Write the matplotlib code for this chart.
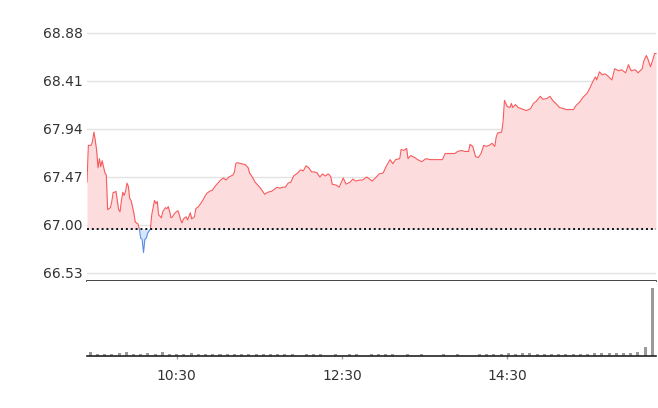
import matplotlib.pyplot as plt
import matplotlib.patches as mpatches
import numpy as np

# intraday price, minutes after 09:25
minutes = [0, 1, 3, 4, 5, 6, 7, 8, 9, 10, 11, 12, 13, 14, 15, 17, 18, 19, 20, 21,
           22, 23, 24, 25, 26, 27, 28, 29, 30, 31, 32, 33, 34, 35, 37, 38, 39, 40, 41, 42,
           43, 44, 46, 47, 48, 49, 50, 51, 52, 54, 55, 57, 58, 59, 60, 61, 62, 64, 66, 67,
           68, 69, 70, 72, 73, 75, 76, 78, 79, 81, 84, 86, 87, 89, 91, 93, 95, 97, 99, 101,
           103, 106, 107, 108, 109, 112, 115, 117, 118, 120, 122, 124, 126, 127, 129, 131, 134, 136, 138, 140,
           142, 144, 146, 148, 150, 153, 155, 157, 159, 161, 163, 165, 167, 169, 171, 173, 175, 176, 177, 178,
           181, 183, 186, 188, 191, 193, 195, 198, 200, 203, 205, 207, 210, 212, 215, 217, 220, 222, 224, 227,
           228, 230, 232, 233, 235, 238, 240, 243, 246, 249, 251, 254, 256, 258, 260, 263, 267, 269, 272, 274,
           277, 278, 280, 282, 284, 286, 288, 290, 292, 294, 296, 297, 298, 301, 302, 303, 305, 307, 308, 309,
           311, 313, 315, 319, 322, 324, 326, 329, 331, 334, 336, 338, 341, 343, 346, 348, 351, 353, 355, 358,
           360, 363, 365, 367, 369, 370, 372, 374, 376, 378, 381, 383, 386, 388, 391, 393, 395, 398, 400, 403,
           404, 406, 407, 409, 411, 412, 413]
prices = [67.42, 67.78, 67.78, 67.82, 67.91, 67.83, 67.73, 67.56, 67.65, 67.57, 67.63, 67.57, 67.51, 67.49, 67.15, 67.17, 67.23, 67.32, 67.32, 67.33,
          67.24, 67.15, 67.13, 67.24, 67.32, 67.29, 67.33, 67.41, 67.38, 67.26, 67.24, 67.18, 67.12, 67.03, 67.01, 66.96, 66.87, 66.86, 66.73, 66.86,
          66.87, 66.92, 66.96, 67.10, 67.17, 67.24, 67.21, 67.23, 67.10, 67.07, 67.13, 67.17, 67.16, 67.18, 67.13, 67.07, 67.08, 67.12, 67.14, 67.10,
          67.05, 67.02, 67.06, 67.08, 67.05, 67.12, 67.06, 67.08, 67.16, 67.18, 67.24, 67.29, 67.31, 67.33, 67.34, 67.38, 67.41, 67.44, 67.46, 67.44,
          67.47, 67.49, 67.52, 67.60, 67.61, 67.60, 67.59, 67.56, 67.51, 67.47, 67.42, 67.39, 67.36, 67.34, 67.30, 67.32, 67.33, 67.35, 67.37, 67.36,
          67.37, 67.37, 67.41, 67.42, 67.48, 67.51, 67.54, 67.53, 67.58, 67.56, 67.52, 67.52, 67.51, 67.47, 67.50, 67.48, 67.50, 67.49, 67.47, 67.40,
          67.39, 67.37, 67.46, 67.40, 67.42, 67.45, 67.43, 67.44, 67.44, 67.47, 67.45, 67.43, 67.47, 67.50, 67.51, 67.57, 67.64, 67.60, 67.64, 67.65,
          67.74, 67.73, 67.75, 67.65, 67.68, 67.66, 67.64, 67.62, 67.65, 67.64, 67.64, 67.64, 67.64, 67.64, 67.70, 67.70, 67.70, 67.72, 67.73, 67.72,
          67.72, 67.79, 67.77, 67.67, 67.66, 67.70, 67.78, 67.77, 67.78, 67.80, 67.77, 67.86, 67.90, 67.91, 68.01, 68.22, 68.16, 68.15, 68.19, 68.15,
          68.18, 68.15, 68.14, 68.12, 68.14, 68.19, 68.21, 68.26, 68.23, 68.24, 68.26, 68.22, 68.18, 68.15, 68.14, 68.13, 68.13, 68.13, 68.17, 68.21,
          68.25, 68.29, 68.34, 68.40, 68.45, 68.42, 68.50, 68.47, 68.48, 68.46, 68.42, 68.53, 68.51, 68.52, 68.49, 68.57, 68.51, 68.52, 68.49, 68.53,
          68.60, 68.66, 68.63, 68.55, 68.63, 68.68, 68.68]
prev_close = 66.96

y_ticks = [66.53, 67.00, 67.47, 67.94, 68.41, 68.88]
x_tick_min = [65, 185, 305]
x_tick_labels = ["10:30", "12:30", "14:30"]

# volume bars (thousand shares), one per bar slot
volume = [57, 32, 32, 32, 47, 57, 32, 32, 42, 32, 57, 32, 32, 32, 42, 32, 32, 32, 32, 32,
          32, 32, 32, 32, 32, 32, 32, 32, 32, 0, 32, 32, 32, 0, 32, 0, 32, 32, 0, 32,
          32, 32, 32, 0, 32, 0, 32, 0, 0, 32, 0, 32, 0, 0, 32, 32, 32, 32, 50, 32,
          42, 42, 32, 37, 32, 32, 32, 32, 37, 37, 42, 42, 42, 42, 52, 52, 62, 132, 1040]
bar_start = 2.4   # minutes
bar_step = 5.23   # minutes between bars on this chart

RED = "#f85a5c"
RED_FILL = "#fddcde"
BLUE = "#5b8fe6"
BLUE_FILL = "#d5e5fa"

fig = plt.figure(figsize=(6.58, 4.08), dpi=100)
ax = fig.add_axes([87 / 658, 127 / 408, 569 / 658, 261 / 408])
axv = fig.add_axes([87 / 658, 52 / 408, 569 / 658, 75 / 408], sharex=ax)

t = np.array(minutes)
p = np.array(prices)
ax.set_xlim(0, 413)
px = 0.47 / 48
ax.set_ylim(66.53 - 8 * px, 68.88 + 13 * px)

for yt in y_ticks:
    ax.axhline(yt, color="#e2e2e2", lw=1, zorder=0)

clip_up = mpatches.Rectangle((0, prev_close), 500, 10, transform=ax.transData)
clip_dn = mpatches.Rectangle((0, prev_close - 10), 500, 10, transform=ax.transData)

f1 = ax.fill_between(t, p, prev_close, color=RED_FILL, lw=0, zorder=1)
f1.set_clip_path(clip_up)
f2 = ax.fill_between(t, p, prev_close, color=BLUE_FILL, lw=0, zorder=1)
f2.set_clip_path(clip_dn)
l1, = ax.plot(t, p, color=RED, lw=0.8, zorder=2)
l1.set_clip_path(clip_up)
l2, = ax.plot(t, p, color=BLUE, lw=0.8, zorder=2)
l2.set_clip_path(clip_dn)

ax.axhline(prev_close, color="#111111", lw=1.4, linestyle=(0, (1, 1.5)), zorder=3)

ax.set_yticks(y_ticks)
ax.set_yticklabels([f"{v:.2f}" for v in y_ticks])
ax.tick_params(axis="y", length=0, pad=3, labelsize=10, labelcolor="#333333")
ax.tick_params(axis="x", length=0, labelbottom=False)
for s in ["top", "right", "left"]:
    ax.spines[s].set_visible(False)
ax.spines["bottom"].set_color("#222222")
ax.spines["bottom"].set_linewidth(1.2)

bar_t = bar_start + bar_step * np.arange(len(volume))
axv.bar(bar_t, volume, width=2.2, color="#9a9a9a", zorder=2)
axv.set_ylim(0, max(volume) * 75 / 68)
axv.set_yticks([])
axv.set_xticks(x_tick_min)
axv.set_xticklabels(x_tick_labels)
axv.tick_params(axis="x", length=2.5, width=1, color="#a0a0a0", pad=7,
                labelsize=10, labelcolor="#333333")
for s in ["top", "right", "left"]:
    axv.spines[s].set_visible(False)
axv.spines["bottom"].set_color("#222222")
axv.spines["bottom"].set_linewidth(1.2)

fig.savefig("out.png", dpi=100)
